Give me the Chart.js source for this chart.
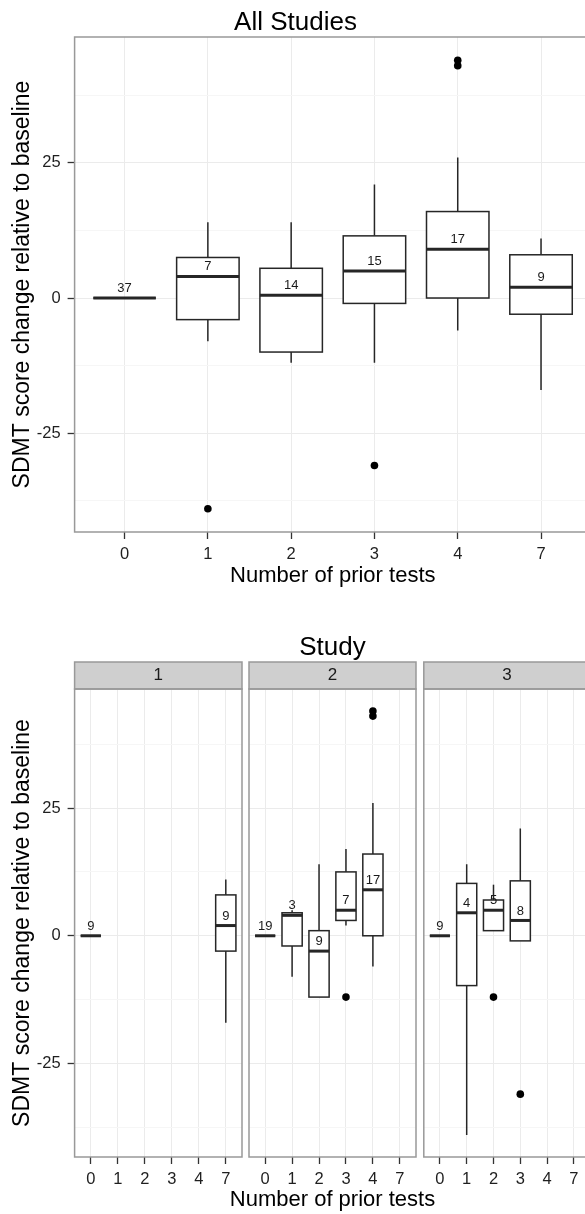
<!DOCTYPE html>
<html>
<head>
<meta charset="utf-8">
<script src="https://cdn.jsdelivr.net/npm/chart.js@4.4.1/dist/chart.umd.min.js"></script>
<style>
    html, body { margin: 0; padding: 0; background: #fff; width: 585px; height: 1214px; overflow: hidden; }
    #page { position: relative; width: 585px; height: 1214px; }
    canvas { position: absolute; }
    .caption { position: absolute; font-family: "Liberation Sans", Arial, sans-serif; color: #000; text-align: center; white-space: nowrap; }
</style>
</head>
<body>
<div id="page">
    <canvas id="all" width="600" height="600" style="left:0;top:0"></canvas>
    <canvas id="study1" width="245" height="594" style="left:0;top:620px"></canvas>
    <canvas id="study3" width="180" height="594" style="left:420px;top:620px"></canvas>
    <canvas id="study2" width="366" height="594" style="left:150px;top:620px"></canvas>
    <div class="caption" style="left:132.5px;top:1188px;width:400px;font-size:22px;line-height:22px">Number of prior tests</div>
</div>
<script>
var priorTests = ['0', '1', '2', '3', '4', '7'];
var studies = ['1', '2', '3'];
var yTicks = [-37.5, -25, -12.5, 0, 12.5, 25, 37.5];
var yMin = -43.3, yMax = 48.3;
var yTitle = 'SDMT score change relative to baseline';
var xTitle = 'Number of prior tests';

// all studies pooled
var allN      = [37, 7, 14, 15, 17, 9];
var allLow    = [0, -8, -12, -12, -6, -17];
var allQ1     = [0, -4, -10, -1, 0, -3];
var allMedian = [0, 4, 0.5, 5, 9, 2];
var allQ3     = [0, 7.5, 5.5, 11.5, 16, 8];
var allHigh   = [0, 14, 14, 21, 26, 11];
var allOut    = [[], [-39], [], [-31], [44, 43], []];

// study 1
var s1N      = [9, null, null, null, null, 9];
var s1Low    = [0, null, null, null, null, -17];
var s1Q1     = [0, null, null, null, null, -3];
var s1Median = [0, null, null, null, null, 2];
var s1Q3     = [0, null, null, null, null, 8];
var s1High   = [0, null, null, null, null, 11];
var s1Out    = [[], [], [], [], [], []];

// study 2
var s2N      = [19, 3, 9, 7, 17, null];
var s2Low    = [0, -8, -12, 2, -6, null];
var s2Q1     = [0, -2, -12, 3, 0, null];
var s2Median = [0, 4, -3, 5, 9, null];
var s2Q3     = [0, 4.5, 1, 12.5, 16, null];
var s2High   = [0, 5, 14, 17, 26, null];
var s2Out    = [[], [], [], [-12], [44, 43], []];

// study 3
var s3N      = [9, 4, 5, 8, null, null];
var s3Low    = [0, -39, 1, -1, null, null];
var s3Q1     = [0, -9.75, 1, -1, null, null];
var s3Median = [0, 4.5, 5, 3, null, null];
var s3Q3     = [0, 10.25, 7, 10.75, null, null];
var s3High   = [0, 14, 10, 21, null, null];
var s3Out    = [[], [], [-12], [-31], [], []];

var FONT = '"Liberation Sans", Arial, sans-serif';
var BOX_HALF = 0.375;

// boxes, n labels, panel frame and facet strip
var makeBoxes = function(box, strip) {
    return {
        id: 'boxes',
        beforeDatasetsDraw: function(chart) {
            var ctx = chart.ctx, x = chart.scales.x, y = chart.scales.y;
            ctx.save();
            ctx.strokeStyle = '#262626';
            box.n.forEach(function(n, i) {
                if (n == null) return;
                var x0 = x.getPixelForValue(i - BOX_HALF),
                    x1 = x.getPixelForValue(i + BOX_HALF),
                    xc = x.getPixelForValue(i),
                    yLow = y.getPixelForValue(box.low[i]),
                    yQ1 = y.getPixelForValue(box.q1[i]),
                    yMed = y.getPixelForValue(box.median[i]),
                    yQ3 = y.getPixelForValue(box.q3[i]),
                    yHigh = y.getPixelForValue(box.high[i]);
                ctx.lineWidth = 1.5;
                ctx.beginPath();
                ctx.moveTo(xc, yQ3); ctx.lineTo(xc, yHigh);
                ctx.moveTo(xc, yQ1); ctx.lineTo(xc, yLow);
                ctx.stroke();
                ctx.fillStyle = '#fff';
                ctx.fillRect(x0, yQ3, x1 - x0, yQ1 - yQ3);
                ctx.strokeRect(x0, yQ3, x1 - x0, yQ1 - yQ3);
                ctx.lineWidth = 3;
                ctx.beginPath();
                ctx.moveTo(x0, yMed); ctx.lineTo(x1, yMed);
                ctx.stroke();
            });
            ctx.restore();
        },
        afterDatasetsDraw: function(chart) {
            var ctx = chart.ctx, x = chart.scales.x, y = chart.scales.y;
            ctx.save();
            ctx.fillStyle = '#1a1a1a';
            ctx.font = '13px ' + FONT;
            ctx.textAlign = 'center';
            ctx.textBaseline = 'bottom';
            box.n.forEach(function(n, i) {
                if (n == null) return;
                ctx.fillText(String(n), x.getPixelForValue(i), y.getPixelForValue(box.median[i]) - 3);
            });
            ctx.restore();
        },
        afterDraw: function(chart) {
            var ctx = chart.ctx, a = chart.chartArea;
            ctx.save();
            ctx.strokeStyle = '#999';
            ctx.lineWidth = 1.5;
            if (strip) {
                ctx.fillStyle = '#CFCFCF';
                ctx.fillRect(a.left, a.top - 27, a.right - a.left, 27);
                ctx.strokeRect(a.left, a.top - 27, a.right - a.left, 27);
                ctx.fillStyle = '#1a1a1a';
                ctx.font = '17px ' + FONT;
                ctx.textAlign = 'center';
                ctx.textBaseline = 'middle';
                ctx.fillText(strip, (a.left + a.right) / 2, a.top - 13.5);
            }
            ctx.strokeRect(a.left, a.top, a.right - a.left, a.bottom - a.top);
            ctx.restore();
        }
    };
};

var outlierPoints = function(lists) {
    var pts = [];
    lists.forEach(function(list, i) {
        list.forEach(function(v) { pts.push({x: i, y: v}); });
    });
    return pts;
};

var isMajor = function(c) {
    return c.tick && c.tick.value % 25 === 0;
};

var drawPanel = function(id, box, opt) {
    var showY = opt.yWidth > 0;
    return new Chart(document.getElementById(id), {
        type: 'scatter',
        data: {
            datasets: [{
                data: outlierPoints(box.out),
                pointRadius: 3.8,
                pointHoverRadius: 3.8,
                backgroundColor: '#000',
                borderColor: '#000',
                borderWidth: 0
            }]
        },
        options: {
            responsive: false,
            animation: false,
            devicePixelRatio: 1,
            events: [],
            layout: {padding: opt.padding},
            plugins: {
                legend: {display: false},
                tooltip: {enabled: false},
                title: {
                    display: !!opt.title,
                    text: opt.title || '',
                    color: '#000',
                    font: {family: FONT, size: 26, weight: 'normal', lineHeight: 1},
                    padding: opt.titlePadding || 0
                }
            },
            scales: {
                x: {
                    type: 'linear',
                    min: -0.6,
                    max: priorTests.length - 0.4,
                    bounds: 'data',
                    afterBuildTicks: function(scale) {
                        scale.ticks = priorTests.map(function(t, i) { return {value: i}; });
                    },
                    afterFit: function(scale) { scale.height = opt.xHeight; },
                    border: {display: false},
                    grid: {color: '#EBEBEB', lineWidth: 1, tickColor: '#333', tickLength: 7, tickWidth: 1.3},
                    ticks: {
                        autoSkip: false,
                        maxRotation: 0,
                        padding: 5.5,
                        color: '#1f1f1f',
                        font: {family: FONT, size: 16.5},
                        callback: function(v) { return priorTests[v]; }
                    },
                    title: {
                        display: !!opt.xTitle,
                        text: opt.xTitle || '',
                        color: '#000',
                        font: {family: FONT, size: 22, lineHeight: 1.2},
                        padding: {top: 0, bottom: 10.8}
                    }
                },
                y: {
                    min: yMin,
                    max: yMax,
                    bounds: 'data',
                    afterBuildTicks: function(scale) {
                        scale.ticks = yTicks.map(function(v) { return {value: v}; });
                    },
                    afterFit: function(scale) { scale.width = opt.yWidth; },
                    border: {display: false},
                    grid: {
                        color: function(c) { return isMajor(c) ? '#EBEBEB' : '#F6F6F6'; },
                        tickColor: function(c) { return isMajor(c) ? '#333' : 'rgba(0,0,0,0)'; },
                        drawTicks: showY,
                        tickLength: 7,
                        tickWidth: 1.3
                    },
                    ticks: {
                        display: showY,
                        autoSkip: false,
                        padding: 7,
                        color: '#1f1f1f',
                        font: {family: FONT, size: 16.5},
                        callback: function(v) { return v % 25 === 0 ? String(v) : ''; }
                    },
                    title: {
                        display: !!opt.yTitle,
                        text: opt.yTitle || '',
                        color: '#000',
                        font: {family: FONT, size: 23, lineHeight: 1.2},
                        padding: {top: 8.6, bottom: 0}
                    }
                }
            }
        },
        plugins: [makeBoxes(box, opt.strip)]
    });
};

drawPanel('all', {
    n: allN, low: allLow, q1: allQ1, median: allMedian, q3: allQ3, high: allHigh, out: allOut
}, {
    title: 'All Studies', titlePadding: {top: 9.7, bottom: 1.3},
    xTitle: xTitle, yTitle: yTitle,
    yWidth: 74.6, xHeight: 68,
    padding: {left: 0, right: 9, top: 0, bottom: 0}
});

drawPanel('study1', {
    n: s1N, low: s1Low, q1: s1Q1, median: s1Median, q3: s1Q3, high: s1High, out: s1Out
}, {
    strip: studies[0], yTitle: yTitle,
    yWidth: 74.6, xHeight: 57,
    padding: {left: 0, right: 3, top: 69, bottom: 0}
});

drawPanel('study3', {
    n: s3N, low: s3Low, q1: s3Q1, median: s3Median, q3: s3Q3, high: s3High, out: s3Out
}, {
    strip: studies[2],
    yWidth: 0, xHeight: 57,
    padding: {left: 3, right: 10, top: 69, bottom: 0}
});

drawPanel('study2', {
    n: s2N, low: s2Low, q1: s2Q1, median: s2Median, q3: s2Q3, high: s2High, out: s2Out
}, {
    strip: studies[1], title: 'Study', titlePadding: {top: 15, bottom: 28},
    yWidth: 0, xHeight: 57,
    padding: {left: 99, right: 100, top: 0, bottom: 0}
});
</script>
</body>
</html>
